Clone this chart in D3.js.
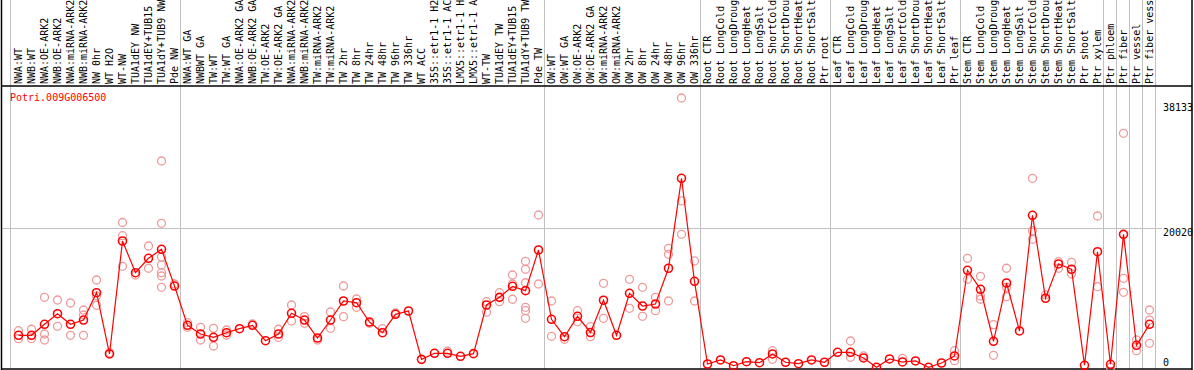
<!DOCTYPE html>
<html>
<head>
<meta charset="utf-8">
<script src="https://cdn.jsdelivr.net/npm/d3@7"></script>
<style>
  body { margin: 0; background: #fff; }
  svg { display: block; }
</style>
</head>
<body>
<div id="chart"></div>
<script>
const geneName = "Potri.009G006500";

const categories = [
  "NWA:WT", "NWB:WT", "NWA:OE-ARK2", "NWB:OE-ARK2", "NWA:miRNA-ARK2", "NWB:miRNA-ARK2",
  "NW 0hr", "WT H2O", "WT-NW", "TUA1dEY NW", "TUA1dEY+TUB15", "TUA1dY+TUB9 NW", "Pde NW",
  "NWA:WT GA", "NWBWT GA", "TW:WT", "TW:WT GA", "NWA:OE-ARK2 GA", "NWB:OE-ARK2 GA",
  "TW:OE-ARK2", "TW:OE-ARK2 GA", "NWA:miRNA-ARK2", "NWB:miRNA-ARK2", "TW:miRNA-ARK2",
  "TW:miRNA-ARK2", "TW 2hr", "TW 8hr", "TW 24hr", "TW 48hr", "TW 96hr", "TW 336hr",
  "WT ACC", "35S::etr1-1 H2O", "35S::etr1-1 ACC", "LMX5::etr1-1 H2O", "LMX5::etr1-1 ACC",
  "WT-TW", "TUA1dEY TW", "TUA1dEY+TUB15", "TUA1dY+TUB9 TW", "Pde TW",
  "OW:WT", "OW:WT GA", "OW:OE-ARK2", "OW:OE-ARK2 GA", "OW:miRNA-ARK2", "OW:miRNA-ARK2",
  "OW 2hr", "OW 8hr", "OW 24hr", "OW 48hr", "OW 96hr", "OW 336hr",
  "Root CTR", "Root LongCold", "Root LongDrought", "Root LongHeat", "Root LongSalt",
  "Root ShortCold", "Root ShortDrought", "Root ShortHeat", "Root ShortSalt", "Ptr root",
  "Leaf CTR", "Leaf LongCold", "Leaf LongDrought", "Leaf LongHeat", "Leaf LongSalt",
  "Leaf ShortCold", "Leaf ShortDrought", "Leaf ShortHeat", "Leaf ShortSalt", "Ptr leaf",
  "Stem CTR", "Stem LongCold", "Stem LongDrought", "Stem LongHeat", "Stem LongSalt",
  "Stem ShortCold", "Stem ShortDrought", "Stem ShortHeat", "Stem ShortSalt",
  "Ptr shoot", "Ptr xylem", "Ptr phloem", "Ptr fiber", "Ptr vessel", "Ptr fiber vessel"
];

// mean expression per sample
const means = [
  4990, 4990, 6520, 8000, 6520, 7120, 10940, 2380, 18160, 13730, 15740, 17000, 11870,
  6380, 5170, 4710, 5350, 5910, 6380, 4230, 5170, 8060, 7120, 4610, 7120, 9780, 9540,
  6840, 5350, 7920, 8380, 1630, 2470, 2470, 2050, 2420, 9220, 10290, 11830, 11220, 16900,
  7220, 4790, 7640, 5380, 9880, 4990, 10850, 9080, 9360, 14350, 26920, 12530,
  980, 1540, 740, 1300, 1160, 2380, 1220, 1020, 1540, 1220,
  2610, 2610, 1820, 520, 1680, 1260, 1400, 520, 1120, 2100,
  14070, 11410, 4150, 12290, 5590, 21750, 10160, 14950, 14210,
  800, 16660, 940, 19090, 3590, 6520
];

// replicate values per sample
const replicates = [
  [5630, 4510], [5830, 4510], [10290, 5170, 4330], [9920, 6240], [9500, 4990],
  [8520, 7820, 4990], [12710, 10480, 9180], [2560], [20740, 18900, 14620], [13410],
  [17460, 14350], [29330, 20630, 15920, 14810, 13730, 13270, 11690], [12150],
  [6750, 6100], [6100, 4330], [5960, 3490], [5730, 5030], [], [6570], [], [5830, 4710],
  [9220, 6980], [7590, 6660], [4330], [8240, 5960], [11870, 7590], [10060, 8900],
  [6660], [5910], [8100], [], [], [], [2790], [], [],
  [9680, 8200], [10940, 9680], [13410, 12150, 10020],
  [15320, 14210, 12330, 8900, 8420, 7360], [21790, 12150],
  [9780, 4850], [4430], [8420, 6890], [6190, 4790], [12250, 7360], [],
  [12810, 8760], [11690, 7640], [10290, 8420], [17140, 16300, 9780],
  [38133, 23750, 19090], [15370, 9780],
  [], [], [], [], [], [2840, 1630], [], [], [], [],
  [], [4190, 1910], [2100], [], [], [1770], [], [], [], [2840, 1440],
  [15740, 12810], [13230, 10480, 10020], [6470, 2190], [14350, 11690, 10380], [],
  [26920, 19600, 18400], [10620], [15270, 14350], [15180, 13550],
  [], [21650, 11780], [520], [33200, 12950, 10990], [4330, 2840], [8520, 7120, 3870]
];

// index of the last sample in each block (vertical separators)
const groupEnds = [12, 40, 52, 62, 72, 83, 84, 85, 86, 87];

const yMax = 38133;
const yTicks = [38133, 20020, 0];

const width = 1194;
const height = 370;
const headerBottom = 86;
const plotBottom = 369;
const plotRight = 1192;
const font = "'DejaVu Sans Mono', monospace";

const svg = d3.select("#chart").append("svg")
  .attr("width", width)
  .attr("height", height);

const x = d3.scaleBand()
  .domain(d3.range(categories.length))
  .range([12, 12 + categories.length * 13]);

const y = d3.scaleLinear()
  .domain([0, yMax])
  .range([371, 98]);

const cx = (i) => x(i) + x.bandwidth() / 2;

// grey separators
const sepX = [10.5].concat(groupEnds.map((i) => Math.round(x(i) + x.bandwidth()) - 0.5));
svg.append("g")
  .selectAll("line")
  .data(sepX)
  .join("line")
  .attr("x1", (d) => d)
  .attr("x2", (d) => d)
  .attr("y1", 0)
  .attr("y2", plotBottom)
  .attr("stroke", "#c0c0c0")
  .attr("stroke-width", 1);

// horizontal grid at middle tick
svg.append("line")
  .attr("x1", 1).attr("x2", 1162)
  .attr("y1", Math.round(y(20020)) + 0.5)
  .attr("y2", Math.round(y(20020)) + 0.5)
  .attr("stroke", "#c0c0c0");

// frame
svg.append("line").attr("x1", 1.5).attr("x2", 1.5).attr("y1", 0).attr("y2", plotBottom + 1)
  .attr("stroke", "#000").attr("stroke-width", 1.5);
svg.append("line").attr("x1", plotRight).attr("x2", plotRight).attr("y1", 0).attr("y2", plotBottom + 1)
  .attr("stroke", "#000").attr("stroke-width", 1.5);
svg.append("line").attr("x1", 1).attr("x2", plotRight).attr("y1", headerBottom).attr("y2", headerBottom)
  .attr("stroke", "#000").attr("stroke-width", 1.5);
svg.append("line").attr("x1", 1).attr("x2", plotRight).attr("y1", plotBottom).attr("y2", plotBottom)
  .attr("stroke", "#000").attr("stroke-width", 1.5);

// header labels (long ones run off the top, as in the original)
svg.append("g")
  .selectAll("text")
  .data(categories)
  .join("text")
  .attr("transform", (d, i) => `translate(${cx(i) + 3.5},${headerBottom - 2}) rotate(-90)`)
  .attr("font-family", font)
  .attr("font-size", 10)
  .attr("fill", "#000")
  .text((d) => d);

// gene name
svg.append("text")
  .attr("x", 10).attr("y", 101)
  .attr("font-family", font)
  .attr("font-size", 10)
  .attr("fill", "#ff0000")
  .text(geneName);

// y tick labels
svg.append("g")
  .selectAll("text")
  .data(yTicks)
  .join("text")
  .attr("x", 1163)
  .attr("y", (d) => Math.max(111, Math.min(366, y(d) + 8)))
  .attr("font-family", font)
  .attr("font-size", 10)
  .attr("fill", "#000")
  .text((d) => d);

const plot = svg.append("g");

// replicates
const repPoints = [];
replicates.forEach((vals, i) => vals.forEach((v) => repPoints.push({ i, v })));

plot.append("g")
  .selectAll("circle")
  .data(repPoints)
  .join("circle")
  .attr("cx", (d) => cx(d.i))
  .attr("cy", (d) => y(d.v))
  .attr("r", 4)
  .attr("fill", "none")
  .attr("stroke", "#ee9a9a")
  .attr("stroke-width", 1.3);

// mean line
plot.append("path")
  .datum(means)
  .attr("fill", "none")
  .attr("stroke", "#ff0000")
  .attr("stroke-width", 1.2)
  .attr("d", d3.line().x((_, i) => cx(i)).y((d) => y(d)));

// mean circles
plot.append("g")
  .selectAll("circle")
  .data(means)
  .join("circle")
  .attr("cx", (_, i) => cx(i))
  .attr("cy", (d) => y(d))
  .attr("r", 4)
  .attr("fill", "none")
  .attr("stroke", "#ff0000")
  .attr("stroke-width", 1.6);
</script>
</body>
</html>
